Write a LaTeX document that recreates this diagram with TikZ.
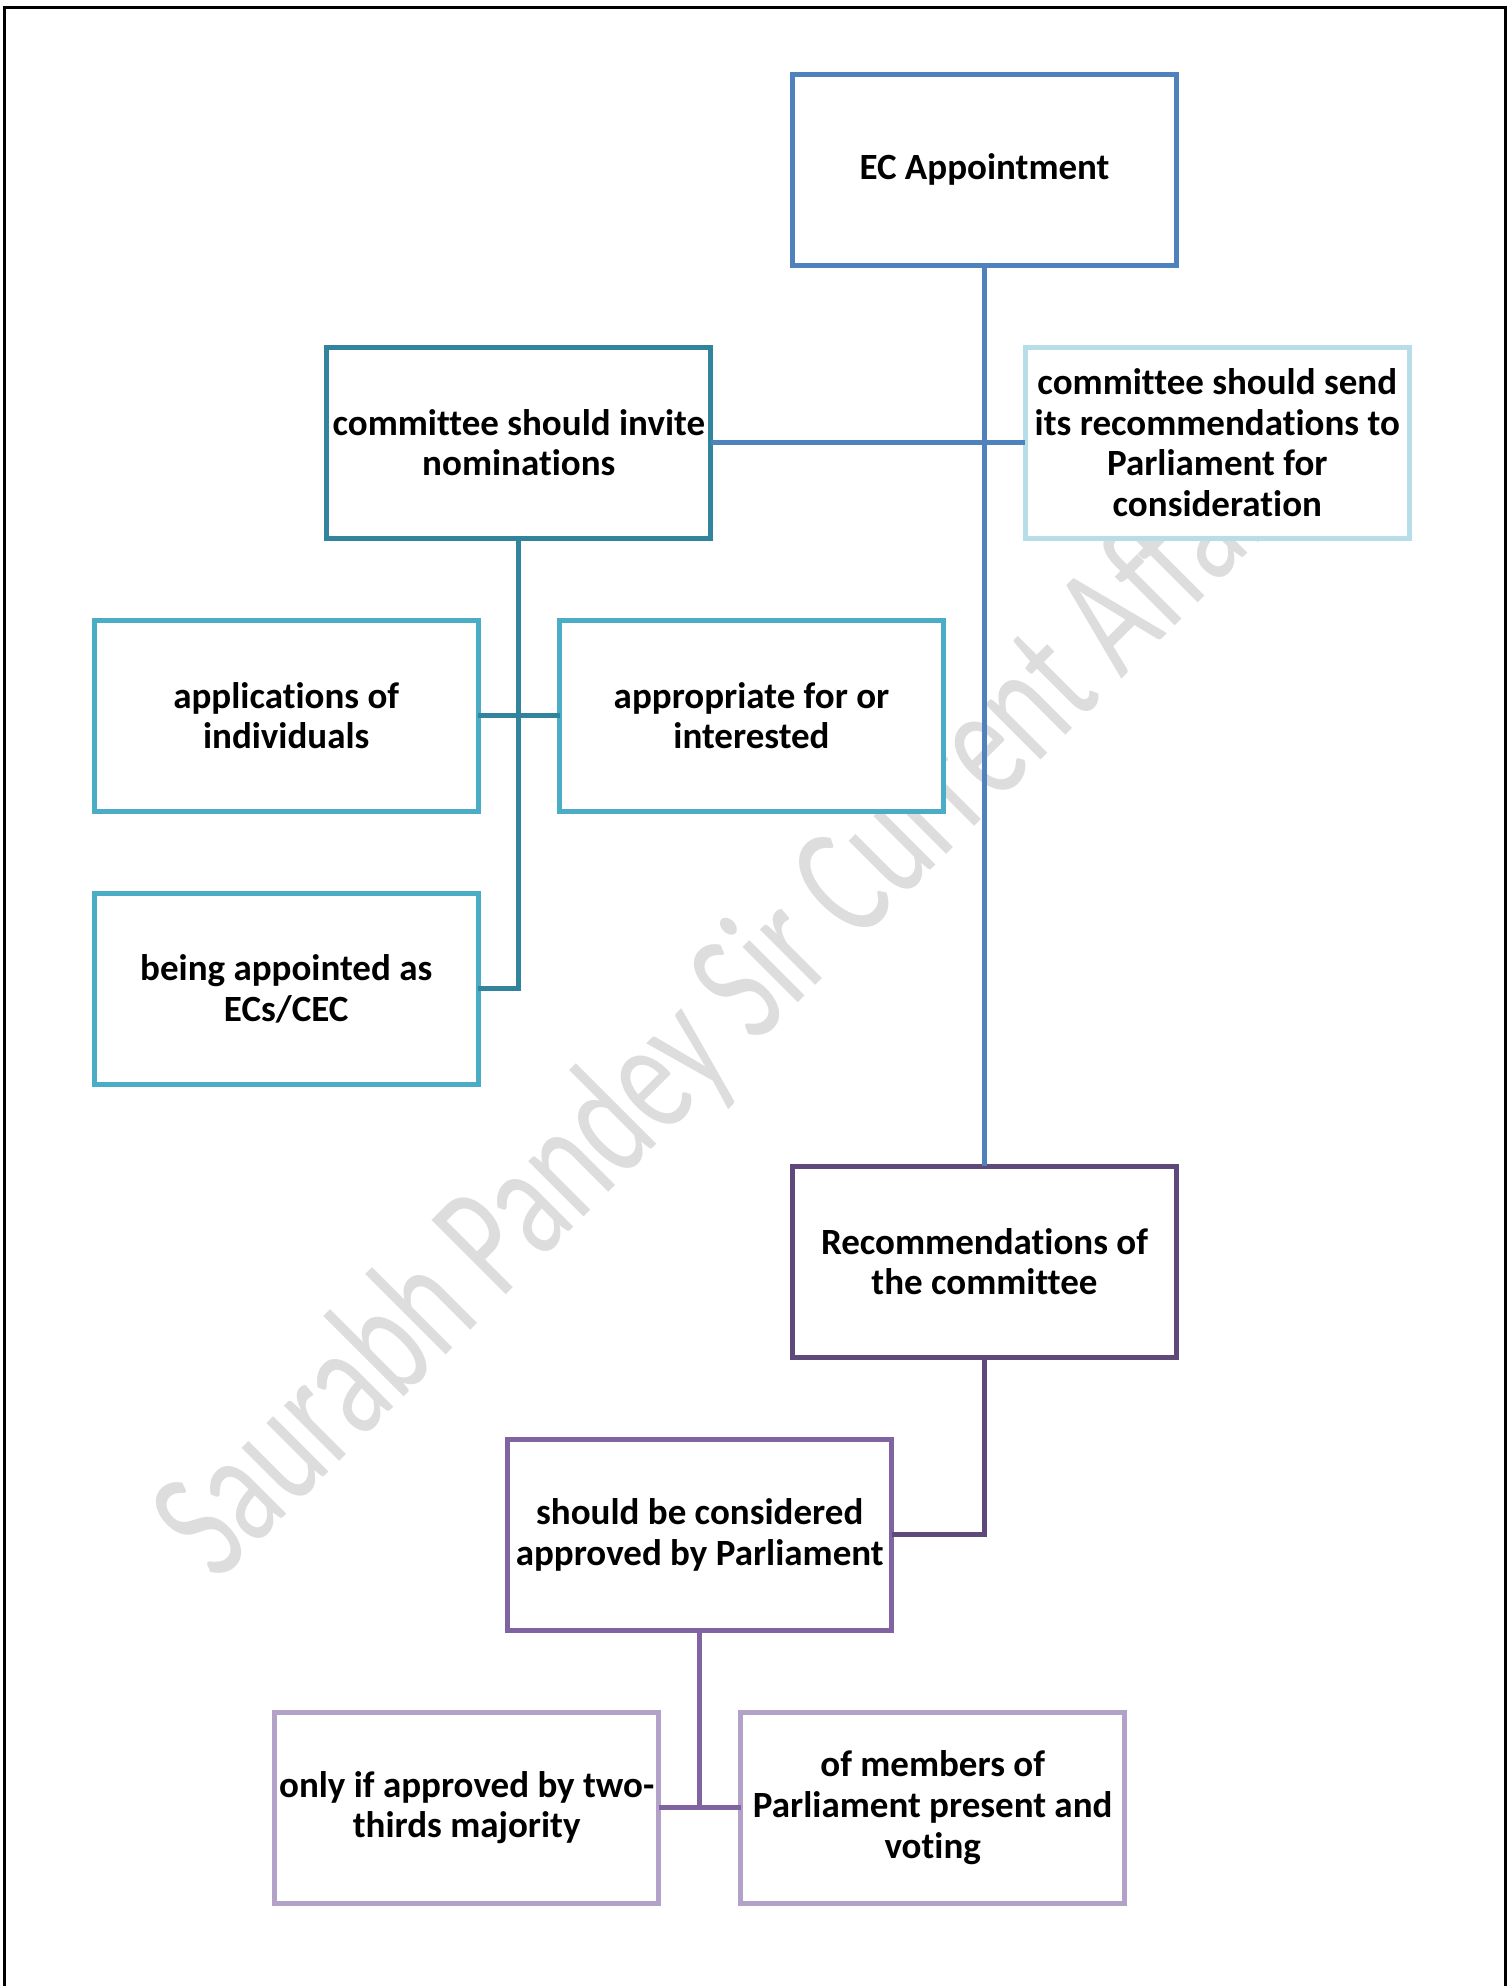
\documentclass[tikz,border=0pt]{standalone}
\usepackage{fontspec}
\setmainfont{Carlito}[Ligatures=NoCommon]
\usetikzlibrary{positioning}
\definecolor{ecblue}{HTML}{4F81BD}
\definecolor{tealdark}{HTML}{31849B}
\definecolor{tealmid}{HTML}{4BACC6}
\definecolor{tealpale}{HTML}{B7DEE8}
\definecolor{plumdark}{HTML}{5F497A}
\definecolor{plummid}{HTML}{8064A2}
\definecolor{plumpale}{HTML}{B2A2C7}
\definecolor{wmgray}{HTML}{DDDDDD}

\begin{document}
\begin{tikzpicture}[x=1pt, y=-1pt, node distance=82pt, box/.style={rectangle, draw, line width=4.7pt, fill=white, align=center, minimum width=384pt, minimum height=191pt, inner sep=0pt, outer sep=0pt, font=\bfseries\fontsize{37}{40.6}\selectfont}, rootbox/.style={box, draw=ecblue}, invbox/.style={box, draw=tealdark}, sendbox/.style={box, draw=tealpale}, leafbox/.style={box, draw=tealmid}, recbox/.style={box, draw=plumdark}, parlbox/.style={box, draw=plummid}, votebox/.style={box, draw=plumpale}, link/.style={line width=4.7pt}, watermark/.style={text=wmgray, inner sep=0pt, font=\fontsize{113}{113}\selectfont}]
\useasboundingbox (0,0) rectangle (1507,1986);
\draw[line width=3pt] (4.2,1986) -- (4.2,7.3) -- (1505.7,7.3) -- (1505.7,1986);
\node[watermark, rotate=45, anchor=base west] (wmark) at (217,1584) {\scalebox{1}[1.45]{Saurabh Pandey Sir Current Affairs}};
% boxes
\node[rootbox] (ec) at (984.5,169.7) {EC Appointment};
\node[invbox, below=of ec, xshift=-465.7pt] (invite) {committee should invite\\nominations};
\node[sendbox, below=of ec, xshift=232.8pt] (send) {committee should send\\its recommendations to\\Parliament for\\consideration};
\node[leafbox, below=of invite, xshift=-232.6pt] (appl) {applications of\\individuals};
\node[leafbox, below=of invite, xshift=232.7pt] (fit) {appropriate for or\\interested};
\node[leafbox, below=of appl] (ecs) {being appointed as\\ECs/CEC};
\node[recbox] (recs) at (984.5,1261.7) {Recommendations of\\the committee};
\node[parlbox, below=of recs, xshift=-284.8pt] (parl) {should be considered\\approved by Parliament};
\node[votebox, below=of parl, xshift=-233pt] (twothirds) {only if approved by two-\\thirds majority};
\node[votebox, below=of parl, xshift=233pt] (members) {of members of\\Parliament present and\\voting};
% connectors
\draw[link, ecblue] (ec.south) -- (recs.north);
\draw[link, ecblue] (invite.east) -- (send.west);
\draw[link, tealdark] (invite.south) |- (ecs.east);
\draw[link, tealdark] (appl.east) -- (fit.west);
\draw[link, plumdark] (recs.south) |- (parl.east);
\draw[link, plummid] (parl.south) -- (parl.south |- twothirds.east);
\draw[link, plummid] (twothirds.east) -- (members.west);
\end{tikzpicture}
\end{document}
